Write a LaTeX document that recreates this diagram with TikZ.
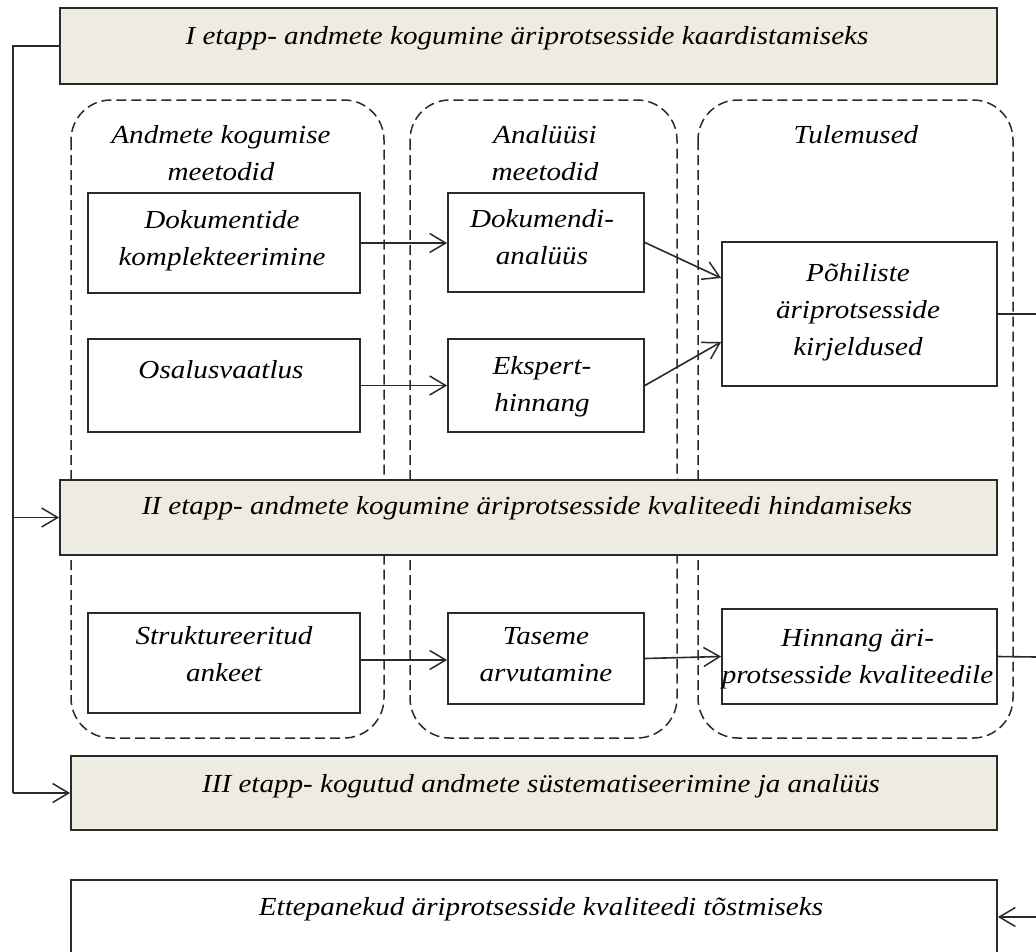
\documentclass[tikz,border=0pt]{standalone}
\usepackage{fontspec}
\setmainfont{Liberation Serif}[FakeStretch=1.12]
\usetikzlibrary{arrows.meta}
\definecolor{stagefill}{HTML}{EEECE1}
\definecolor{ink}{HTML}{2A2A2A}
\begin{document}
\begin{tikzpicture}[x=1pt,y=-1pt,
  every node/.style={font=\fontsize{26}{37}\selectfont\itshape, inner sep=0pt, text=black},
  txt/.style={align=center, anchor=base},
  box/.style={draw=ink, line width=1.8pt, fill=white, rectangle, inner sep=0pt},
  stage/.style={box, fill=stagefill},
  group/.style={draw=ink, line width=1.5pt, dash pattern=on 10pt off 5pt, rounded corners=40pt},
  link/.style={draw=ink, line width=1.6pt},
  arr/.style={link, -{Straight Barb[length=16pt,width=19pt,line width=1.5pt]}},
]
\clip (0,0) rectangle (1036,951);

% dashed method / result groups
\draw[group] (71,100) rectangle (384,738);
\draw[group] (410,100) rectangle (677,738);
\draw[group] (698,100) rectangle (1013,738);

% stage bars
\node[stage, minimum width=937pt, minimum height=76pt] (s1) at (528.5,46) {};
\node[stage, minimum width=937pt, minimum height=75pt] (s2) at (528.5,517.5) {};
\node[stage, minimum width=926pt, minimum height=74pt] (s3) at (534,793) {};
\node[box, minimum width=926pt, minimum height=90pt] (e) at (534,925) {};

\node[txt] (s1t) at (527,44) {I etapp- andmete kogumine äriprotsesside  kaardistamiseks};
\node[txt] (s2t) at (527,514) {II etapp- andmete kogumine äriprotsesside  kvaliteedi  hindamiseks};
\node[txt] (s3t) at (541,792) {III etapp- kogutud andmete süstematiseerimine  ja analüüs};
\node[txt] (et) at (541,915) {Ettepanekud äriprotsesside  kvaliteedi  tõstmiseks};

% group headings (anchored at the baseline of the last line)
\node[txt] (h1) at (221,180) {Andmete kogumise\\meetodid};
\node[txt] (h2) at (545,180) {Analüüsi\\meetodid};
\node[txt] (h3) at (856,143) {Tulemused};

% process boxes
\node[box, minimum width=272pt, minimum height=100pt] (d1) at (224,243) {};
\node[box, minimum width=272pt, minimum height=93pt] (d2) at (224,385.5) {};
\node[box, minimum width=272pt, minimum height=100pt] (d3) at (224,663) {};
\node[box, minimum width=196pt, minimum height=99pt] (a1) at (546,242.5) {};
\node[box, minimum width=196pt, minimum height=93pt] (a2) at (546,385.5) {};
\node[box, minimum width=196pt, minimum height=91pt] (a3) at (546,658.5) {};
\node[box, minimum width=275pt, minimum height=144pt] (r1) at (859.5,314) {};
\node[box, minimum width=275pt, minimum height=95pt] (r2) at (859.5,656.5) {};

\node[txt] (d1t) at (222,265) {Dokumentide\\komplekteerimine};
\node[txt] (d2t) at (221,378) {Osalusvaatlus};
\node[txt] (d3t) at (224,681) {Struktureeritud\\ankeet};
\node[txt] (a1t) at (542,264) {Dokumendi-\\analüüs};
\node[txt] (a2t) at (542,411) {Ekspert-\\hinnang};
\node[txt] (a3t) at (546,681) {Taseme\\arvutamine};
\node[txt] (r1t) at (858,355) {Põhiliste\\äriprotsesside\\kirjeldused};
\node[txt] (r2t) at (857.5,683) {Hinnang äri-\\protsesside  kvaliteedile};

% stage feed on the left
\coordinate (bus) at (13,46);
\draw[link] (s1.west) -- (bus) -- (bus |- s3.west);
\draw[arr] (bus |- s2.west) -- (s2.west);
\draw[arr] (bus |- s3.west) -- (s3.west);

% method to analysis to result
\draw[arr] (d1.east) -- (d1.east -| a1.west);
\draw[arr] (d2.east) -- (d2.east -| a2.west);
\draw[arr] (a1.east) -- ([yshift=36pt]r1.west);
\draw[arr] (a2.east) -- ([yshift=-28pt]r1.west);
\draw[arr] ([yshift=3pt]d3.east) -- ([yshift=-1.5pt]a3.west);
\draw[arr] (a3.east) -- (r2.west);

% results leaving to the right, proposals fed from the right
\coordinate (o1) at (1036,314);
\coordinate (o2) at (1036,657);
\coordinate (o3) at (1036,917);
\draw[link] (r1.east) -- (o1);
\draw[link] (r2.east) -- (o2);
\draw[arr] (o3) -- (o3 -| e.east);
\end{tikzpicture}
\end{document}
